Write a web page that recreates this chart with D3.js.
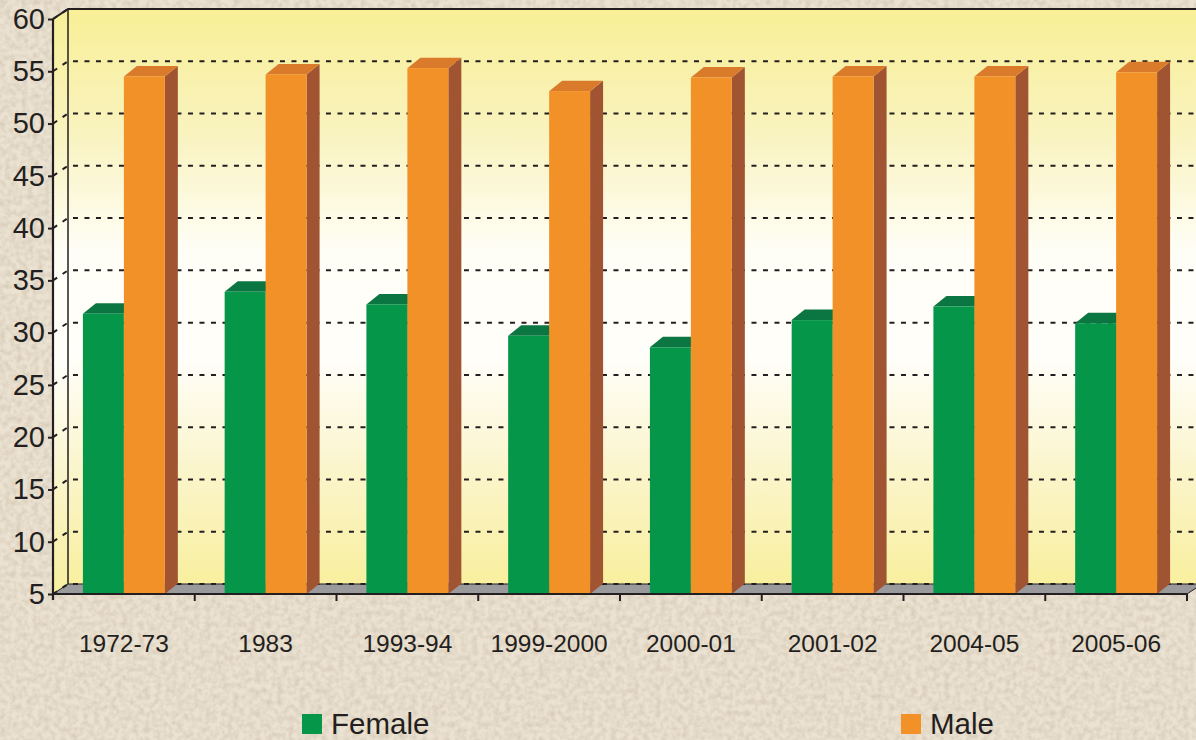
<!DOCTYPE html>
<html>
<head>
<meta charset="utf-8">
<script src="https://cdn.jsdelivr.net/npm/d3@7"></script>
<style>
  html, body { margin: 0; padding: 0; background: #ebe2d2; }
  #chart { width: 1196px; height: 740px; overflow: hidden; }
  text { font-family: "Liberation Sans", Arial, sans-serif; fill: #231f20; }
</style>
</head>
<body>
<div id="chart"></div>
<script>
// Data
let categories = ["1972-73", "1983", "1993-94", "1999-2000", "2000-01", "2001-02", "2004-05", "2005-06"];
let seriesNames = ["Female", "Male"];
let femaleValues = [31.8, 33.9, 32.7, 29.7, 28.6, 31.2, 32.5, 30.9];
let maleValues = [54.5, 54.7, 55.3, 53.1, 54.4, 54.5, 54.5, 54.9];
let yTicks = [5, 10, 15, 20, 25, 30, 35, 40, 45, 50, 55, 60];

let width = 1196, height = 740;
let plotLeft = 53, plotRight = 1187, plotBottom = 594, plotTop = 19;
let wallDx = 15, wallDy = -10;
let barDx = 13, barDy = -10.5;

let colors = {
    Female: { front: "#05964a", top: "#0c7643", side: "#0a6b3c" },
    Male: { front: "#f39129", top: "#da7a2b", side: "#a05431" }
};

let svg = d3.select("#chart")
    .append("svg")
    .attr("width", width)
    .attr("height", height);

let defs = svg.append("defs");

// parchment texture
let tex = defs.append("filter")
    .attr("id", "paper")
    .attr("x", 0).attr("y", 0).attr("width", "100%").attr("height", "100%");
tex.append("feTurbulence")
    .attr("type", "fractalNoise")
    .attr("baseFrequency", "0.18")
    .attr("numOctaves", 2)
    .attr("seed", 4);
tex.append("feColorMatrix")
    .attr("type", "matrix")
    .attr("values", "0 0 0 0 0.55  0 0 0 0 0.45  0 0 0 0 0.33  0 0 0 -1.6 1.05");

let wallGrad = defs.append("linearGradient")
    .attr("id", "wall")
    .attr("x1", 0).attr("y1", 0).attr("x2", 0).attr("y2", 1);
[[0, "#f8ef96"], [0.22, "#f9f3c0"], [0.42, "#fffef6"], [0.6, "#fffefa"], [0.8, "#fbf5cc"], [1, "#f8ef9e"]]
    .forEach(s => wallGrad.append("stop").attr("offset", s[0]).attr("stop-color", s[1]));

svg.append("rect").attr("width", width).attr("height", height).attr("fill", "#ebe2d2");
svg.append("rect").attr("width", width).attr("height", height).attr("filter", "url(#paper)").attr("opacity", 0.55);

// Scales
let xScale = d3.scaleBand()
    .domain(categories)
    .range([plotLeft, plotRight])
    .padding(0);

let xInner = d3.scaleBand()
    .domain(seriesNames)
    .range([0, xScale.bandwidth()])
    .paddingInner(0)
    .paddingOuter(0.73);

let yScale = d3.scaleLinear()
    .domain([5, 60])
    .range([plotBottom, plotTop]);

let g = svg.append("g");

// back wall + side wall
g.append("rect")
    .attr("x", plotLeft + wallDx)
    .attr("y", yScale(60) + wallDy)
    .attr("width", width - plotLeft)
    .attr("height", plotBottom - plotTop)
    .attr("fill", "url(#wall)");

g.append("path")
    .attr("d", `M${plotLeft},${yScale(60)} L${plotLeft + wallDx},${yScale(60) + wallDy} L${plotLeft + wallDx},${plotBottom + wallDy} L${plotLeft},${plotBottom} Z`)
    .attr("fill", "url(#wall)");

// floor
g.append("path")
    .attr("d", `M${plotLeft},${plotBottom} L${plotLeft + wallDx},${plotBottom + wallDy} L${plotRight + wallDx},${plotBottom + wallDy} L${plotRight},${plotBottom} Z`)
    .attr("fill", "#9a9a9c")
    .attr("stroke", "#231f20")
    .attr("stroke-width", 1);

// gridlines on side wall and back wall
g.append("g").selectAll("path")
    .data(yTicks)
    .enter()
    .append("path")
    .attr("d", d => `M${plotLeft},${yScale(d)} L${plotLeft + wallDx},${yScale(d) + wallDy} L${width + 10},${yScale(d) + wallDy}`)
    .attr("fill", "none")
    .attr("stroke", "#231f20")
    .attr("stroke-width", 2)
    .attr("stroke-dasharray", "5,6.5");

// wall edges
g.append("path")
    .attr("d", `M${plotLeft},${yScale(60)} L${plotLeft + wallDx},${yScale(60) + wallDy} L${width + 10},${yScale(60) + wallDy}`)
    .attr("fill", "none")
    .attr("stroke", "#231f20")
    .attr("stroke-width", 2);
g.append("line")
    .attr("x1", plotLeft + wallDx).attr("x2", plotLeft + wallDx)
    .attr("y1", yScale(60) + wallDy).attr("y2", plotBottom + wallDy)
    .attr("stroke", "#231f20")
    .attr("stroke-width", 1.5);

// bars
let barData = [];
categories.forEach(function(c, i) {
    barData.push({ cat: c, series: "Female", value: femaleValues[i] });
    barData.push({ cat: c, series: "Male", value: maleValues[i] });
});

let bars = g.append("g").selectAll("g")
    .data(barData)
    .enter()
    .append("g");

bars.each(function(d) {
    let el = d3.select(this);
    let x0 = xScale(d.cat) + xInner(d.series);
    let w = xInner.bandwidth();
    let y0 = yScale(d.value);
    let c = colors[d.series];
    el.append("path")
        .attr("d", `M${x0 + w},${y0} L${x0 + w + barDx},${y0 + barDy} L${x0 + w + barDx},${plotBottom + barDy} L${x0 + w},${plotBottom} Z`)
        .attr("fill", c.side);
    el.append("path")
        .attr("d", `M${x0},${y0} L${x0 + barDx},${y0 + barDy} L${x0 + w + barDx},${y0 + barDy} L${x0 + w},${y0} Z`)
        .attr("fill", c.top);
    el.append("rect")
        .attr("x", x0)
        .attr("y", y0)
        .attr("width", w)
        .attr("height", plotBottom - y0)
        .attr("fill", c.front);
});

// front axes
g.append("line")
    .attr("x1", plotLeft).attr("x2", plotLeft)
    .attr("y1", yScale(60)).attr("y2", plotBottom + 6)
    .attr("stroke", "#231f20")
    .attr("stroke-width", 2.2);
g.append("line")
    .attr("x1", plotLeft).attr("x2", plotRight)
    .attr("y1", plotBottom).attr("y2", plotBottom)
    .attr("stroke", "#231f20")
    .attr("stroke-width", 2.2);

let yAxis = d3.axisLeft(yScale)
    .tickValues(yTicks)
    .tickSize(5)
    .tickPadding(3);

let yAxisG = g.append("g")
    .attr("transform", `translate(${plotLeft}, 0)`)
    .call(yAxis);
yAxisG.select(".domain").remove();
yAxisG.selectAll("line").attr("stroke", "#231f20").attr("stroke-width", 2);
yAxisG.selectAll("text")
    .attr("font-size", "29px")
    .attr("font-family", "Liberation Sans, Arial, sans-serif")
    .attr("fill", "#231f20");

// category ticks at band edges
g.append("g").selectAll("line")
    .data(categories)
    .enter()
    .append("line")
    .attr("x1", d => xScale(d) + xScale.bandwidth())
    .attr("x2", d => xScale(d) + xScale.bandwidth())
    .attr("y1", plotBottom)
    .attr("y2", plotBottom + 7)
    .attr("stroke", "#231f20")
    .attr("stroke-width", 2);

g.append("g").selectAll("text")
    .data(categories)
    .enter()
    .append("text")
    .attr("x", d => xScale(d) + xScale.bandwidth() / 2)
    .attr("y", 652)
    .attr("text-anchor", "middle")
    .attr("font-size", "24.5px")
    .text(d => d);

// legend
let legendX = [302, 901];
let legend = svg.append("g").selectAll("g")
    .data(seriesNames)
    .enter()
    .append("g")
    .attr("transform", (d, i) => `translate(${legendX[i]}, 714)`);
legend.append("rect")
    .attr("width", 20)
    .attr("height", 20)
    .attr("fill", d => colors[d].front);
legend.append("text")
    .attr("x", 29)
    .attr("y", 20)
    .attr("font-size", "29.5px")
    .text(d => d);
</script>
</body>
</html>
